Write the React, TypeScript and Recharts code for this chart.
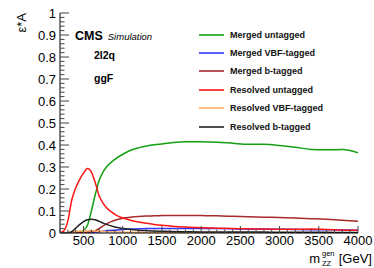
import React from "react";
import { LineChart, Line, XAxis, YAxis, Legend } from "recharts";

// generated mass grid (GeV)
const mass = [
  200, 250, 300, 350, 400, 450, 500, 550, 600, 650, 700, 750, 800, 900, 1000,
  1100, 1200, 1300, 1400, 1500, 1600, 1800, 2000, 2200, 2400, 2600, 2800, 3000,
  3200, 3400, 3600, 3800, 4000,
];

// efficiency x acceptance per category
const mergedUntagged = [
  0, 0, 0, 0, 0.002, 0.005, 0.012, 0.035, 0.1, 0.175, 0.24, 0.278, 0.303, 0.335,
  0.358, 0.376, 0.387, 0.395, 0.401, 0.405, 0.409, 0.415, 0.415, 0.413, 0.408,
  0.403, 0.403, 0.398, 0.39, 0.38, 0.378, 0.379, 0.365,
];
const mergedVBF = [
  0, 0, 0, 0, 0, 0, 0.001, 0.001, 0.002, 0.004, 0.006, 0.008, 0.01, 0.013, 0.016,
  0.018, 0.019, 0.02, 0.021, 0.021, 0.021, 0.021, 0.021, 0.02, 0.019, 0.018,
  0.018, 0.017, 0.016, 0.015, 0.015, 0.014, 0.013,
];
const mergedBtag = [
  0, 0, 0, 0, 0, 0.001, 0.002, 0.004, 0.006, 0.01, 0.02, 0.032, 0.043, 0.058,
  0.067, 0.072, 0.075, 0.077, 0.078, 0.079, 0.08, 0.08, 0.079, 0.078, 0.076,
  0.074, 0.072, 0.07, 0.068, 0.065, 0.062, 0.058, 0.053,
];
const resolvedUntagged = [
  0, 0.01, 0.055, 0.15, 0.205, 0.243, 0.272, 0.293, 0.277, 0.228, 0.168, 0.135,
  0.112, 0.085, 0.068, 0.058, 0.05, 0.044, 0.039, 0.035, 0.032, 0.027, 0.024,
  0.022, 0.02, 0.019, 0.018, 0.017, 0.017, 0.018, 0.016, 0.013, 0.012,
];
const resolvedVBF = [
  0, 0.001, 0.003, 0.005, 0.007, 0.009, 0.01, 0.01, 0.01, 0.009, 0.008, 0.007,
  0.006, 0.005, 0.004, 0.003, 0.003, 0.002, 0.002, 0.002, 0.002, 0.001, 0.001,
  0.001, 0.001, 0.001, 0.001, 0.001, 0.001, 0.001, 0.001, 0.001, 0.001,
];
const resolvedBtag = [
  0, 0, 0.001, 0.006, 0.022, 0.038, 0.052, 0.06, 0.063, 0.06, 0.053, 0.045,
  0.038, 0.027, 0.02, 0.016, 0.013, 0.011, 0.009, 0.008, 0.007, 0.006, 0.005,
  0.005, 0.004, 0.004, 0.004, 0.003, 0.003, 0.003, 0.003, 0.002, 0.002,
];

const xMajorTicks = [500, 1000, 1500, 2000, 2500, 3000, 3500, 4000];
const yMajorTicks = [0, 0.1, 0.2, 0.3, 0.4, 0.5, 0.6, 0.7, 0.8, 0.9, 1];

const series = [
  { key: "mergedUntagged", name: "Merged untagged", values: mergedUntagged, color: "#12a012" },
  { key: "mergedVBF", name: "Merged VBF-tagged", values: mergedVBF, color: "#3535ff" },
  { key: "mergedBtag", name: "Merged b-tagged", values: mergedBtag, color: "#a82a2a" },
  { key: "resolvedUntagged", name: "Resolved untagged", values: resolvedUntagged, color: "#ff1414" },
  { key: "resolvedVBF", name: "Resolved VBF-tagged", values: resolvedVBF, color: "#ffb064" },
  { key: "resolvedBtag", name: "Resolved b-tagged", values: resolvedBtag, color: "#222222" },
];

const data = mass.map((m, i) => {
  const row: Record<string, number> = { mass: m };
  series.forEach((s) => (row[s.key] = s.values[i]));
  return row;
});

// minor ticks: 5 subdivisions between majors
const xTicks: number[] = [];
for (let v = 200; v <= 4000; v += 100) xTicks.push(v);
const yTicks: number[] = [];
for (let i = 0; i <= 50; i++) yTicks.push(Math.round(i * 2) / 100);

const FONT = "'Liberation Sans', Arial, Helvetica, sans-serif";
const TICK = "#444";

const isMajorX = (v: number) => xMajorTicks.includes(v);
const isMajorY = (v: number) => yMajorTicks.some((t) => Math.abs(t - v) < 1e-6);

const BottomTick = (p: any) => {
  const v = p.payload.value;
  const major = isMajorX(v);
  return (
    <g>
      <line x1={p.x} y1={p.y} x2={p.x} y2={p.y - (major ? 7 : 3.5)} stroke={TICK} />
      {major && (
        <text x={p.x} y={p.y + 3} dy="0.71em" textAnchor="middle" fontSize={13} fontFamily={FONT} fill="#000">
          {v}
        </text>
      )}
    </g>
  );
};

const TopTick = (p: any) => {
  const major = isMajorX(p.payload.value);
  return <line x1={p.x} y1={p.y} x2={p.x} y2={p.y + (major ? 7 : 3.5)} stroke={TICK} />;
};

const LeftTick = (p: any) => {
  const v = p.payload.value;
  const major = isMajorY(v);
  return (
    <g>
      <line x1={p.x} y1={p.y} x2={p.x + (major ? 9 : 4.5)} y2={p.y} stroke={TICK} />
      {major && (
        <text x={p.x - 4} y={p.y} dy="0.355em" textAnchor="end" fontSize={13} fontFamily={FONT} fill="#000">
          {String(Math.round(v * 10) / 10)}
        </text>
      )}
    </g>
  );
};

const RightTick = (p: any) => {
  const major = isMajorY(p.payload.value);
  return <line x1={p.x} y1={p.y} x2={p.x - (major ? 9 : 4.5)} y2={p.y} stroke={TICK} />;
};

const XTitle = (p: any) => {
  const vb = p.viewBox;
  const r = vb.x + vb.width + 14;
  const base = vb.y + 29.5;
  return (
    <g fontFamily={FONT} fill="#000">
      <text x={r} y={base} textAnchor="end" fontSize={13}>[GeV]</text>
      <text x={r - 50} y={base - 7} textAnchor="start" fontSize={7.5}>gen</text>
      <text x={r - 50} y={base + 3.5} textAnchor="start" fontSize={7.5}>ZZ</text>
      <text x={r - 52} y={base} textAnchor="end" fontSize={13}>m</text>
    </g>
  );
};

const YTitle = (p: any) => {
  const vb = p.viewBox;
  const x = vb.x + 26;
  const y = vb.y;
  return (
    <text x={x} y={y} transform={`rotate(-90, ${x}, ${y})`} textAnchor="end" fontSize={13} fontFamily={FONT} fill="#000">
      ε*A
    </text>
  );
};

const order = series.map((s) => s.name);

const LegendBox = (props: any) => {
  const items = [...(props.payload || [])].sort(
    (a: any, b: any) => order.indexOf(a.value) - order.indexOf(b.value)
  );
  return (
    <div style={{ fontFamily: FONT, fontSize: 9, fontWeight: "bold", color: "#111" }}>
      {items.map((e: any) => (
        <div key={e.value} style={{ display: "flex", alignItems: "center", height: 18.4 }}>
          <svg width={25} height={4} style={{ display: "block" }}>
            <line x1={0} y1={2} x2={25} y2={2} stroke={e.color} strokeWidth={1.6} />
          </svg>
          <span style={{ marginLeft: 6, whiteSpace: "nowrap" }}>{e.value}</span>
        </div>
      ))}
    </div>
  );
};

export default function App() {
  return (
    <div style={{ position: "absolute", left: 0, top: 0, width: 374, height: 268, background: "#fff" }}>
      <LineChart width={374} height={268} data={data} margin={{ top: 13, right: 16, bottom: 0, left: 0 }}>
        <XAxis
          xAxisId="b"
          dataKey="mass"
          type="number"
          domain={[200, 4000]}
          ticks={xTicks}
          interval={0}
          height={35}
          tickSize={0}
          tickMargin={0}
          tickLine={false}
          tick={BottomTick}
          axisLine={{ stroke: "#000" }}
          allowDataOverflow
          label={{ content: XTitle }}
        />
        <XAxis
          xAxisId="t"
          orientation="top"
          dataKey="mass"
          type="number"
          domain={[200, 4000]}
          ticks={xTicks}
          interval={0}
          height={0}
          tickSize={0}
          tickMargin={0}
          tickLine={false}
          tick={TopTick}
          axisLine={{ stroke: "#000" }}
          allowDataOverflow
        />
        <YAxis
          yAxisId="l"
          type="number"
          domain={[0, 1]}
          ticks={yTicks}
          interval={0}
          width={60}
          tickSize={0}
          tickMargin={0}
          tickLine={false}
          tick={LeftTick}
          axisLine={{ stroke: "#000" }}
          allowDataOverflow
          label={{ content: YTitle }}
        />
        <YAxis
          yAxisId="r"
          orientation="right"
          type="number"
          domain={[0, 1]}
          ticks={yTicks}
          interval={0}
          width={0}
          tickSize={0}
          tickMargin={0}
          tickLine={false}
          tick={RightTick}
          axisLine={{ stroke: "#000" }}
          allowDataOverflow
        />
        <Legend
          layout="vertical"
          align="center"
          verticalAlign="middle"
          itemSorter={null}
          content={LegendBox}
          wrapperStyle={{ position: "absolute", left: 199, top: 25.5, width: 170 }}
        />
        {series.map((s) => (
          <Line
            key={s.key}
            xAxisId="b"
            yAxisId="l"
            type="monotone"
            dataKey={s.key}
            name={s.name}
            stroke={s.color}
            strokeWidth={1.5}
            dot={false}
            isAnimationActive={false}
          />
        ))}
      </LineChart>
      <div style={{ position: "absolute", left: 75, top: 26.9, fontFamily: FONT, lineHeight: 1, whiteSpace: "nowrap" }}>
        <span style={{ fontSize: 12.5, fontWeight: "bold" }}>CMS</span>
        <span style={{ fontSize: 9.5, fontStyle: "italic", marginLeft: 5 }}>Simulation</span>
      </div>
      <div style={{ position: "absolute", left: 94, top: 49.9, fontFamily: FONT, fontSize: 10.5, fontWeight: "bold", lineHeight: 1 }}>
        2l2q
      </div>
      <div style={{ position: "absolute", left: 94, top: 72.9, fontFamily: FONT, fontSize: 10.5, fontWeight: "bold", lineHeight: 1 }}>
        ggF
      </div>
    </div>
  );
}
